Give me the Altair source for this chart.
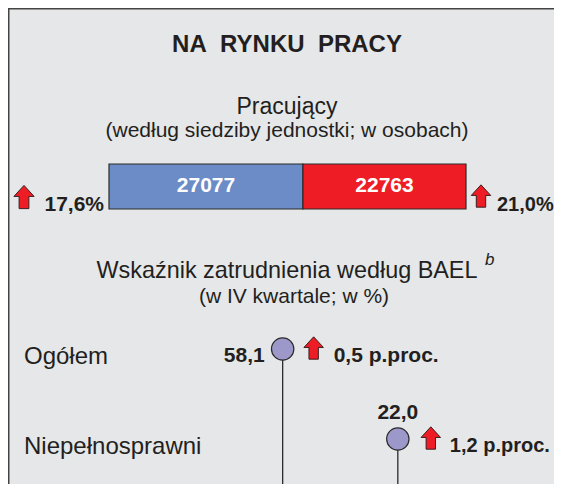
import altair as alt
import pandas as pd

# ---------------- data ----------------
worker_groups = ["Pracujący A", "Pracujący B"]
worker_counts = [27077, 22763]
worker_changes = [17.6, 21.0]
worker_colors = ["#6b8cc7", "#ee1c25"]

rate_categories = ["Ogółem", "Niepełnosprawni"]
rate_values = [58.1, 22.0]
rate_changes = [0.5, 1.2]

title_text = "NA\u00a0\u00a0RYNKU\u00a0\u00a0PRACY"
workers_title = "Pracujący"
workers_sub = "(według siedziby jednostki; w osobach)"
rate_title = "Wskaźnik zatrudnienia według BAEL"
rate_note = "b"
rate_sub = "(w IV kwartale; w %)"

FONT = "Liberation Sans"
W, H = 546, 476
BG = "#e6e7e9"
DARK = "#2b2b2b"
TXT = "#231f20"
ARROW = "M0,-1 L0.87,-0.05 L0.42,-0.05 L0.42,1 L-0.42,1 L-0.42,-0.05 L-0.87,-0.05 Z"


def pl(v, suffix=""):
    return f"{v:.1f}".replace(".", ",") + suffix


workers = pd.DataFrame({"group": worker_groups, "count": worker_counts, "change": worker_changes})
workers["end"] = workers["count"].cumsum()
workers["start"] = workers["end"] - workers["count"]
workers["mid"] = (workers["start"] + workers["end"]) / 2
workers["count_label"] = workers["count"].astype(str)
workers["change_label"] = workers["change"].map(lambda v: pl(v, "%"))
workers["idx"] = range(len(workers))

rates = pd.DataFrame({"cat": rate_categories, "value": rate_values, "change": rate_changes})
rates["value_label"] = rates["value"].map(pl)
rates["change_label"] = rates["change"].map(lambda v: pl(v, " p.proc."))

total = float(sum(worker_counts))
bar_x = alt.Scale(domain=[0, total], range=[101, 458])
rate_x = alt.Scale(domain=[0, 100], range=[460, 141])
rate_y = alt.Scale(type="point", domain=rate_categories, range=[341, 431], padding=0)


def label(text, x, y, size, weight="normal", style="normal", align="center"):
    return alt.Chart(pd.DataFrame({"t": [text]})).mark_text(
        font=FONT, fontSize=size, fontWeight=weight, fontStyle=style,
        align=align, baseline="alphabetic", color=TXT
    ).encode(x=alt.value(x), y=alt.value(y), text="t:N")


# frame (left and top edges)
frame_left = alt.Chart(pd.DataFrame({"a": [0]})).mark_rule(color="#444", strokeWidth=2).encode(
    x=alt.value(0.5), y=alt.value(0), y2=alt.value(H))
frame_top = alt.Chart(pd.DataFrame({"a": [0]})).mark_rule(color="#444", strokeWidth=2).encode(
    y=alt.value(0.5), x=alt.value(0), x2=alt.value(W))

bw = alt.Chart(workers)
bar = bw.mark_bar(stroke=DARK, strokeWidth=1.2).encode(
    x=alt.X("start:Q", scale=bar_x, axis=None),
    x2="end:Q",
    y=alt.value(156), y2=alt.value(201),
    color=alt.Color("group:N", scale=alt.Scale(domain=worker_groups, range=worker_colors), legend=None),
)
bar_text = bw.mark_text(font=FONT, fontSize=21, fontWeight="bold", color="white", baseline="middle").encode(
    x=alt.X("mid:Q", scale=bar_x, axis=None), y=alt.value(178), text="count_label:N")

arrow_style = dict(shape=ARROW, filled=True, fill="#ee1c25", stroke="#3a2020", strokeWidth=1, opacity=1)
left_arrow = bw.transform_filter("datum.idx == 0").mark_point(size=540, xOffset=-85, **arrow_style).encode(
    x=alt.X("start:Q", scale=bar_x, axis=None), y=alt.value(189))
left_pct = bw.transform_filter("datum.idx == 0").mark_text(
    font=FONT, fontSize=21, fontWeight="bold", align="right", dx=-5, color=TXT).encode(
    x=alt.X("start:Q", scale=bar_x, axis=None), y=alt.value(197), text="change_label:N")
right_arrow = bw.transform_filter("datum.idx == 1").mark_point(size=500, xOffset=15, **arrow_style).encode(
    x=alt.X("end:Q", scale=bar_x, axis=None), y=alt.value(188))
right_pct = bw.transform_filter("datum.idx == 1").mark_text(
    font=FONT, fontSize=20, fontWeight="bold", align="left", dx=31, color=TXT).encode(
    x=alt.X("end:Q", scale=bar_x, axis=None), y=alt.value(197), text="change_label:N")

br = alt.Chart(rates)
stems = br.mark_rule(color=DARK, strokeWidth=1.3).encode(
    x=alt.X("value:Q", scale=rate_x, axis=None),
    y=alt.Y("cat:N", scale=rate_y, axis=None),
    y2=alt.value(H),
)
dots = br.mark_point(shape="circle", size=500, filled=True, fill="#9c98c9", stroke=DARK,
                     strokeWidth=1.2, opacity=1).encode(
    x=alt.X("value:Q", scale=rate_x, axis=None),
    y=alt.Y("cat:N", scale=rate_y, axis=None),
)
cat_labels = br.mark_text(font=FONT, fontSize=24, align="left", dy=8, color=TXT).encode(
    x=alt.value(16), y=alt.Y("cat:N", scale=rate_y, axis=None), text="cat:N")

val_first = br.transform_filter(alt.datum.cat == rate_categories[0]).mark_text(
    font=FONT, fontSize=21, fontWeight="bold", align="right", dx=-18, dy=7, color=TXT).encode(
    x=alt.X("value:Q", scale=rate_x, axis=None), y=alt.Y("cat:N", scale=rate_y, axis=None),
    text="value_label:N")
val_second = br.transform_filter(alt.datum.cat == rate_categories[1]).mark_text(
    font=FONT, fontSize=21, fontWeight="bold", align="center", dy=-26, color=TXT).encode(
    x=alt.X("value:Q", scale=rate_x, axis=None), y=alt.Y("cat:N", scale=rate_y, axis=None),
    text="value_label:N")

arr_first = br.transform_filter(alt.datum.cat == rate_categories[0]).mark_point(
    size=500, xOffset=31, yOffset=-1, **arrow_style).encode(
    x=alt.X("value:Q", scale=rate_x, axis=None), y=alt.Y("cat:N", scale=rate_y, axis=None))
chg_first = br.transform_filter(alt.datum.cat == rate_categories[0]).mark_text(
    font=FONT, fontSize=21, fontWeight="bold", align="left", dx=51, dy=7, color=TXT).encode(
    x=alt.X("value:Q", scale=rate_x, axis=None), y=alt.Y("cat:N", scale=rate_y, axis=None),
    text="change_label:N")
arr_second = br.transform_filter(alt.datum.cat == rate_categories[1]).mark_point(
    size=500, xOffset=33, yOffset=-1, **arrow_style).encode(
    x=alt.X("value:Q", scale=rate_x, axis=None), y=alt.Y("cat:N", scale=rate_y, axis=None))
chg_second = br.transform_filter(alt.datum.cat == rate_categories[1]).mark_text(
    font=FONT, fontSize=20, fontWeight="bold", align="left", dx=52, dy=7, color=TXT).encode(
    x=alt.X("value:Q", scale=rate_x, axis=None), y=alt.Y("cat:N", scale=rate_y, axis=None),
    text="change_label:N")

headings = [
    label(title_text, 279, 44, 24, weight="bold"),
    label(workers_title, 279, 106, 23),
    label(workers_sub, 279, 129, 21),
    label(rate_title, 279, 270, 23.4),
    label(rate_note, 477, 257, 17, style="italic", align="left"),
    label(rate_sub, 286, 295, 21),
]

chart = alt.layer(
    frame_left, frame_top,
    bar, bar_text, left_arrow, left_pct, right_arrow, right_pct,
    stems, dots, cat_labels, val_first, val_second, arr_first, chg_first, arr_second, chg_second,
    *headings,
).resolve_scale(x="independent", y="independent").properties(
    width=W, height=H, background=BG, padding=0, autosize=alt.AutoSizeParams(type="none")
).configure_view(stroke=None)

chart.save("out.html", embed_options={"renderer": "svg", "actions": False})
